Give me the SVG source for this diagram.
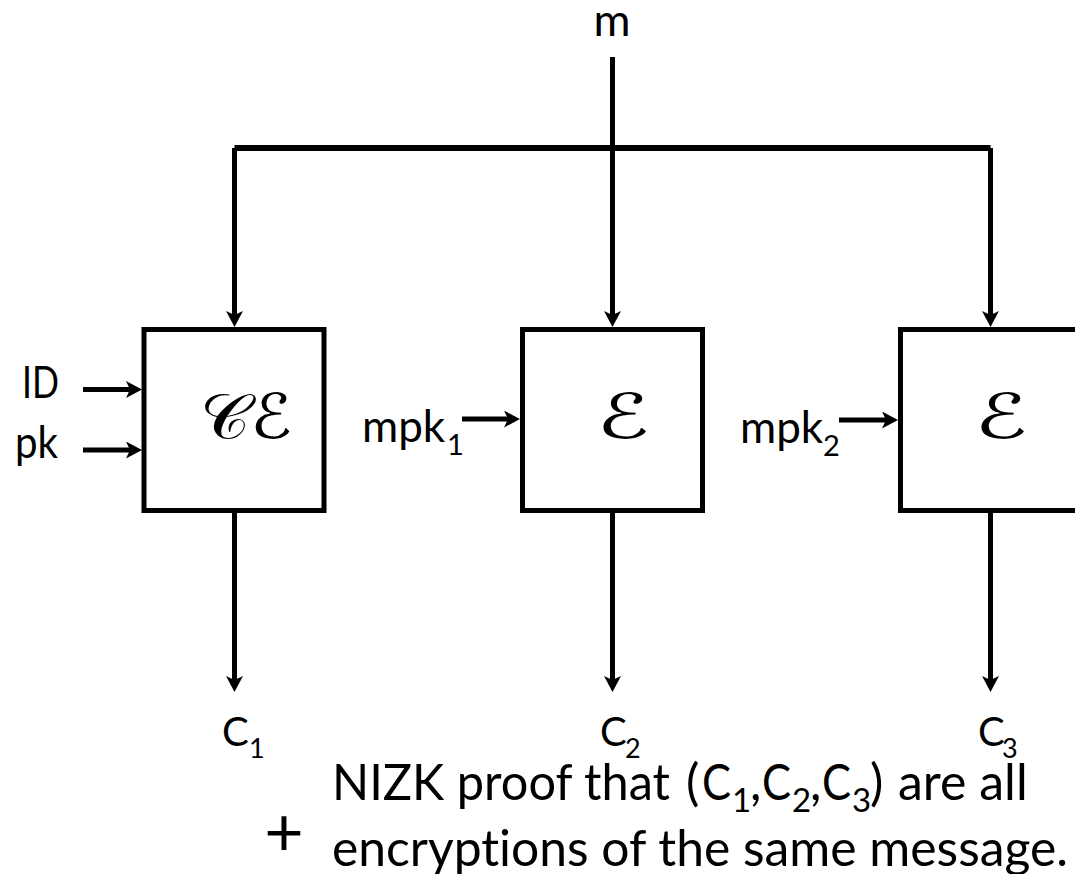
<svg xmlns="http://www.w3.org/2000/svg" width="1075" height="874" viewBox="0 0 1075 874">
<style>
.lbl{font-family:Lato,"Open Sans",sans-serif;fill:#000;font-variant-ligatures:none}
.box{fill:#fff;stroke:#000;stroke-width:5}
.wire{stroke:#000;stroke-width:5;fill:none}
.scr{font-family:"DejaVu Sans","DejaVu Serif","Noto Sans",serif;fill:#000;text-anchor:middle}
</style>
<defs>
<marker id="ah" markerUnits="userSpaceOnUse" viewBox="0 0 16 17" markerWidth="16" markerHeight="17" refX="6" refY="8.5" orient="auto">
<path d="M0,0 L16,8.5 L0,17 L4,8.5 Z" fill="#000"/>
</marker>
</defs>
<rect width="1075" height="874" fill="#fff"/>
<g id="connectors">
<path class="wire" d="M612.5,57 V317" marker-end="url(#ah)"/>
<path class="wire" d="M234.5,148 H990.5" style="stroke-width:6"/>
<path class="wire" d="M234.5,148 V317" marker-end="url(#ah)"/>
<path class="wire" d="M990.5,148 V317" marker-end="url(#ah)"/>
<path class="wire" d="M83,389.5 H132" marker-end="url(#ah)"/>
<path class="wire" d="M83,450 H132" marker-end="url(#ah)"/>
<path class="wire" d="M462,419 H510" marker-end="url(#ah)"/>
<path class="wire" d="M839,420 H888" marker-end="url(#ah)"/>
<path class="wire" d="M234.5,513 V682" marker-end="url(#ah)"/>
<path class="wire" d="M612.5,513 V682" marker-end="url(#ah)"/>
<path class="wire" d="M990.5,513 V682" marker-end="url(#ah)"/>
</g>
<g id="node-ce">
<rect class="box" x="144" y="329.5" width="180" height="181"/>
<text class="scr" x="246" y="438" font-size="62" textLength="92" lengthAdjust="spacingAndGlyphs">𝒞ℰ</text>
</g>
<g id="node-e1">
<rect class="box" x="522.5" y="329.5" width="180" height="181"/>
<text class="scr" x="623" y="438" font-size="62" textLength="53" lengthAdjust="spacingAndGlyphs">ℰ</text>
</g>
<g id="node-e2">
<rect class="box" x="900.5" y="329.5" width="180" height="181"/>
<text class="scr" x="1001" y="438" font-size="62" textLength="53" lengthAdjust="spacingAndGlyphs">ℰ</text>
</g>
<g id="labels">
<text class="lbl" x="612" y="36" font-size="45" text-anchor="middle">m</text>
<text class="lbl" x="22" y="398" font-size="44" textLength="37" lengthAdjust="spacingAndGlyphs">ID</text>
<text class="lbl" x="15" y="458" font-size="44" textLength="43" lengthAdjust="spacingAndGlyphs">pk</text>
<text class="lbl" x="362" y="442" font-size="44">mpk<tspan x="447" y="455" font-size="29">1</tspan></text>
<text class="lbl" x="740" y="443" font-size="44">mpk<tspan x="823" y="456" font-size="29">2</tspan></text>
<text class="lbl" x="222" y="746" font-size="40">C<tspan x="249" y="758" font-size="27">1</tspan></text>
<text class="lbl" x="600" y="746" font-size="40">C<tspan x="625" y="758" font-size="27">2</tspan></text>
<text class="lbl" x="978" y="746" font-size="40">C<tspan x="1002" y="758" font-size="27">3</tspan></text>
<text class="lbl" x="284" y="856" font-size="68" text-anchor="middle">+</text>
<text class="lbl" x="332" y="800" font-size="50"><tspan textLength="338" lengthAdjust="spacingAndGlyphs">NIZK proof that</tspan><tspan x="686">(</tspan><tspan x="702" textLength="29" lengthAdjust="spacingAndGlyphs">C</tspan><tspan x="732" y="812" font-size="33">1</tspan><tspan x="750" y="800">,</tspan><tspan x="762" textLength="29" lengthAdjust="spacingAndGlyphs">C</tspan><tspan x="792" y="812" font-size="33">2</tspan><tspan x="810" y="800">,</tspan><tspan x="822" textLength="29" lengthAdjust="spacingAndGlyphs">C</tspan><tspan x="852" y="812" font-size="33">3</tspan><tspan x="870" y="800">)</tspan><tspan x="898">are all</tspan></text>
<text class="lbl" x="332" y="866" font-size="50" textLength="736" lengthAdjust="spacingAndGlyphs">encryptions of the same message.</text>
</g>
</svg>
